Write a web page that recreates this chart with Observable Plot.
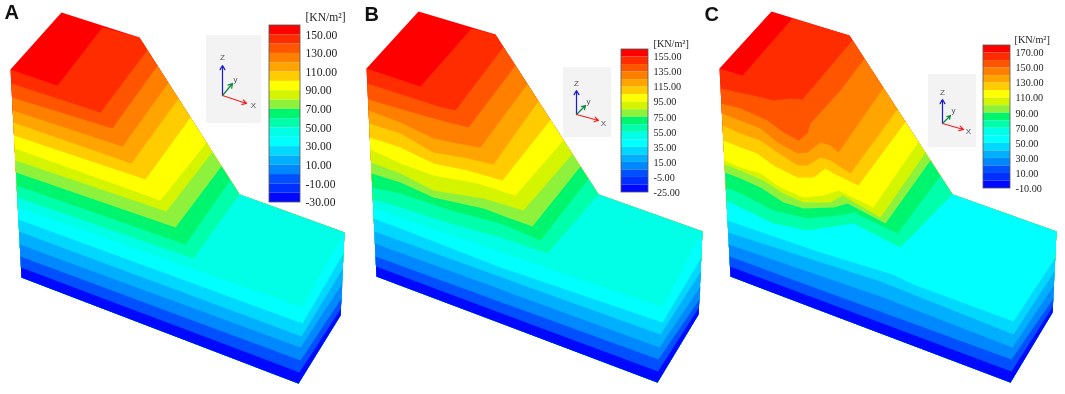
<!DOCTYPE html>
<html><head><meta charset="utf-8">
<script src="https://cdn.jsdelivr.net/npm/d3@7"></script>
<script src="https://cdn.jsdelivr.net/npm/@observablehq/plot@0.6"></script>
<style>html,body{margin:0;padding:0;background:#fff}svg{display:block}</style>
</head><body><div id="chart"></div>
<script>
const palette = ["#ff0000","#ff2c00","#ff5500","#ff8000","#ffa400","#ffcc00","#ffff00","#d4f400","#8ef23c","#00f56e","#00ffaa","#00ffe6","#00ffff","#00d8ff","#00b0ff","#0088ff","#0050ff","#0030ff","#0008ff"];
const unit = "[KN/m²]";
const ticksA = ["150.00","130.00","110.00","90.00","70.00","50.00","30.00","10.00","-10.00","-30.00"];
const ticksB = ["155.00","135.00","115.00","95.00","75.00","55.00","35.00","15.00","-5.00","-25.00"];
const ticksC = ["170.00","150.00","130.00","110.00","90.00","70.00","50.00","30.00","10.00","-10.00"];

// outline: back, crest, toe, right top, right bottom, bottom, left bottom, left top
const outlineA = [[61,12],[139,37],[239,194],[344,232],[340,315],[298,383],[21,277],[10,69]];
const outlineB = [[418,11],[495,34],[598,194],[702,231],[698,314],[657,382],[376,276],[366,68]];
const outlineC = [[771,11],[849,35],[952,194],[1056,231],[1052,312],[1010,382],[730,276],[719,68]];

// contour boundaries, upper to lower
const linesA = [
 [10,69,57,85,102,27,139,37],
 [10.7,83,100,112,147,50],
 [11.5,97,112,128,157,65],
 [12,110,122,146,168,82],
 [12.7,122,131,163,178,98],
 [13.4,135,145,179,190,116],
 [14,148,160,200,206,142],
 [14.7,160,166,211,212,152],
 [15.3,172,175,227,221,166],
 [16,185,185,244,230,180],
 [16.7,197,193,258,239,194],
 [17.3,207,302,307,344,232],
 [18,219,302,323,343,253],
 [18.7,231,301,336,342.5,268],
 [19.3,244,300,347,342,283],
 [20,256,300,360,341,298],
 [20.5,267,299,372,340.5,308]];
const linesB = [
 [366,68,420,86,471,28,495,34],
 [367,83,438,106,455,110,503,46],
 [367.8,99,433,118,468,127,515,65],
 [368.4,110,400,122,433,138,457,143,480,147,527,84],
 [369,123,400,133,433,152,463,157,493,164,538,101],
 [369.8,137,400,147,433,163,467,170,502,180,550,119],
 [370.4,149,400,163,433,175,477,183,515,195,563,143],
 [371,162,400,173,433,190,483,198,523,210,572,157],
 [371.6,173,400,182,433,197,483,208,507,217,532,226,580,166],
 [372.4,187,400,193,450,210,500,223,540,240,588,178],
 [373,199,400,207,450,223,500,237,547,253,598,194],
 [373.5,208,662,307,702,231],
 [374,218,400,228,500,267,662,322,701,257],
 [374.6,231,660,334,700.5,271],
 [375.2,243,659,347,700,286],
 [375.6,256,658,359,699,299],
 [376,266,657.5,371,698.5,307]];
const linesC = [
 [719,68,742,75,792,18,849,35],
 [720,88,753,95,773,100,790,98,802,99,852,40],
 [721,103,740,108,767,120,783,132,798,140,807,133,810,123,840,90,864,58],
 [722,113,740,120,760,128,777,142,797,153,807,152,820,142,830,145,838,152,883,87],
 [722.6,125,740,133,760,140,777,152,797,165,807,165,820,157,830,160,850,173,897,109],
 [723.5,140,740,147,757,153,773,165,797,177,813,177,825,168,833,173,858,185,905,121],
 [724.5,160,740,167,760,173,780,187,803,197,823,195,838,190,873,207,918,143],
 [724.8,164,740,170,763,180,783,193,803,202,830,202,842,195,880,217,925,152],
 [725.4,172,740,178,760,187,783,202,803,208,833,207,847,203,885,223,930,160],
 [726,187,740,193,773,210,807,218,840,215,853,212,897,233,940,175],
 [726.7,200,740,207,773,223,807,230,853,223,900,247,952,194],
 [727.2,208,890,262,1013,308,1056,231],
 [727.8,220,817,251,892,274,913,284,1013,321,1055,257],
 [728.4,232,880,281,1013,334,1054,271],
 [729,244,880,296,1012,347,1053.5,285],
 [729.6,256,1011,359,1053,298],
 [730,266,1011,371,1052.5,306]];

// legend and axis triad layout of each panel
const panels = [
 {name:"A",letter:[4,12],outline:outlineA,lines:linesA,ticks:ticksA,bench:11,bar:[269,300,25,202],unitAt:[305,17],fs:11.6,
  box:[206,261,35,123],o:[222,95],z:[222,65],y:[232,83],x:[246,103],zl:[222,57],yl:[235,79],xl:[253,105]},
 {name:"B",letter:[364,14],outline:outlineB,lines:linesB,ticks:ticksB,bench:11,bar:[621,648,49,192],unitAt:[653,43],fs:10.2,
  box:[563,611,67,137],o:[576,114],z:[576,90],y:[585,105],x:[598,120],zl:[576,83],yl:[588,101],xl:[603,123]},
 {name:"C",letter:[704,14],outline:outlineC,lines:linesC,ticks:ticksC,bench:12,bar:[983,1010,45,188],unitAt:[1014,39],fs:10.2,
  box:[928,976,74,147],o:[942,123],z:[942,99],y:[950,115],x:[963,129],zl:[942,92],yl:[953,110],xl:[968,131]}
];

const polys = [], rows = [], labels = [], boxes = [], bars = [], arrows = [], glyphs = [];
for (const p of panels) {
  const [, crest, toe, , , , lb, lt] = p.outline;
  const toeX = toe[0];
  const onSlope = x => crest[1] + (x-crest[0])*(toe[1]-crest[1])/(toe[0]-crest[0]);
  const onLeft = y => lt[0] + (y-lt[1])*(lb[0]-lt[0])/(lb[1]-lt[1]);
  p.outline.forEach(([x,y]) => polys.push({id:p.name+"base",band:0,x,y}));
  p.lines.forEach((flat,i) => {
    const band = i === 16 ? 18 : i === 10 ? p.bench : i + 1, id = p.name + i, pts = [];
    for (let k = 0; k < flat.length; k += 2) pts.push([flat[k],flat[k+1]]);
    pts[0][0] = onLeft(pts[0][1]);
    const end = pts[pts.length-1];
    if (end[0] > crest[0] && end[0] < toeX) end[1] = onSlope(end[0]);
    const tail = end[0] <= toeX ? p.outline.slice(2,7) : p.outline.slice(4,7);
    pts.concat(tail).forEach(([x,y]) => polys.push({id,band,x,y}));
  });
  const [bx1,bx2,by1,by2] = p.bar, h = (by2-by1)/19;
  palette.forEach((_,i) => rows.push({band:i,x1:bx1,x2:bx2,y1:by1+i*h,y2:by1+(i+1)*h}));
  bars.push({x1:bx1,x2:bx2,y1:by1,y2:by2});
  p.ticks.forEach((t,i) => labels.push({t,x:bx2+5,y:by1+(2*i+1)*h,fs:p.fs}));
  labels.push({t:unit,x:p.unitAt[0],y:p.unitAt[1],fs:p.fs});
  boxes.push({x1:p.box[0],x2:p.box[1],y1:p.box[2],y2:p.box[3]});
  arrows.push({a:p.o,b:p.z,c:"#1a1ad8"},{a:p.o,b:p.y,c:"#0a8a3a"},{a:p.o,b:p.x,c:"#f02020"});
  glyphs.push({t:"Z",at:p.zl},{t:"y",at:p.yl},{t:"X",at:p.xl});
}
const letters = panels.map(p => ({t:p.name,x:p.letter[0],y:p.letter[1]}));

const chart = Plot.plot({
  width:1065,height:394,margin:0,
  x:{domain:[0,1065],range:[0,1065],axis:null},
  y:{domain:[0,394],range:[0,394],axis:null},
  color:{type:"ordinal",domain:d3.range(19),range:palette},
  style:{background:"#fff",filter:"blur(0.45px)"},
  marks:[
    Plot.line(polys,{x:"x",y:"y",z:"id",fill:"band",stroke:"none"}),
    Plot.rect(boxes,{x1:"x1",x2:"x2",y1:"y1",y2:"y2",fill:"#f3f3f3"}),
    Plot.arrow(arrows,{x1:d=>d.a[0],y1:d=>d.a[1],x2:d=>d.b[0],y2:d=>d.b[1],stroke:d=>d.c,strokeWidth:1.2,headLength:6}),
    Plot.text(glyphs,{x:d=>d.at[0],y:d=>d.at[1],text:"t",fontSize:8,fontFamily:"Liberation Sans",fill:"#555"}),
    Plot.rect(rows,{x1:"x1",x2:"x2",y1:"y1",y2:"y2",fill:"band"}),
    Plot.rect(bars,{x1:"x1",x2:"x2",y1:"y1",y2:"y2",fill:"none",stroke:"#555",strokeWidth:0.8}),
    Plot.text(labels.filter(d=>d.fs>11),{x:"x",y:"y",text:"t",textAnchor:"start",fontFamily:"Liberation Serif",fontSize:11.6,fill:"#222"}),
    Plot.text(labels.filter(d=>d.fs<11),{x:"x",y:"y",text:"t",textAnchor:"start",fontFamily:"Liberation Serif",fontSize:10.2,fill:"#222"}),
    Plot.text(letters,{x:"x",y:"y",text:"t",textAnchor:"start",fontFamily:"Liberation Sans",fontWeight:"bold",fontSize:20,fill:"#111"})
  ]
});
document.getElementById("chart").append(chart);
</script></body></html>
